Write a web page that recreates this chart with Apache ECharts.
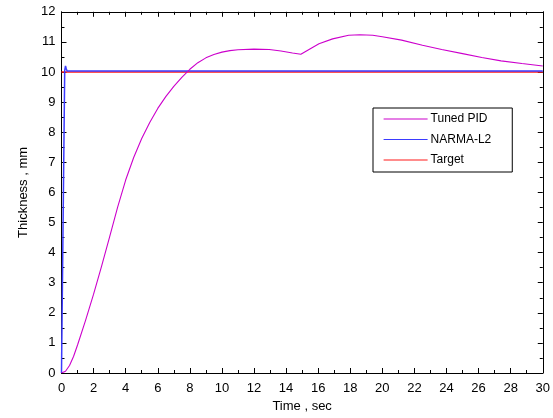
<!DOCTYPE html>
<html>
<head>
<meta charset="utf-8">
<script src="https://cdn.jsdelivr.net/npm/echarts@6/dist/echarts.min.js"></script>
<style>
  html, body { margin: 0; padding: 0; background: #fff; }
  #chart { width: 553px; height: 418px; }
</style>
</head>
<body>
<div id="chart"></div>
<script>
// Thickness response of the tuned PID loop, the NARMA-L2 controller and the set-point
const pidTime = [0, 0.25, 0.5, 0.75, 1, 1.5, 2, 2.5, 3, 3.5, 4, 4.5, 5, 5.5, 6, 6.5, 7, 7.5, 8, 8.5, 9, 9.5, 10, 10.5, 11, 12, 12.95, 13.68, 14.4, 14.92, 15.43, 16.05, 16.9, 17.9, 18.6, 19.4, 20, 21.2, 22.5, 23.7, 25, 26.2, 27.4, 28.7, 30];
const pidThickness = [0, 0.06, 0.25, 0.55, 0.93, 1.75, 2.62, 3.55, 4.52, 5.51, 6.41, 7.16, 7.79, 8.32, 8.79, 9.18, 9.52, 9.82, 10.09, 10.31, 10.47, 10.58, 10.66, 10.71, 10.74, 10.76, 10.75, 10.7, 10.63, 10.59, 10.75, 10.94, 11.1, 11.22, 11.24, 11.22, 11.17, 11.06, 10.89, 10.75, 10.61, 10.48, 10.37, 10.28, 10.2];

const narmaTime = [0, 0.2, 0.25, 0.3, 0.35, 0.5, 1, 5, 10, 15, 20, 25, 30];
const narmaThickness = [0, 10.05, 10.2, 10.1, 10.03, 10.03, 10.03, 10.03, 10.03, 10.03, 10.03, 10.03, 10.03];

const targetTime = [0, 30];
const targetThickness = [10, 10];

const xTicks = { min: 0, max: 30, interval: 2 };
const yTicks = { min: 0, max: 12, interval: 1 };

const seriesNames = ['Tuned PID', 'NARMA-L2', 'Target'];
const seriesColors = ['#cc00cc', '#3b3bff', '#ff1a1a'];

const pairs = (xs, ys) => xs.map((x, i) => [x, ys[i]]);

const font = 'Liberation Sans, Arial, sans-serif';
const black = '#000';

function axis(pos, range, showLabels, name, gap) {
  return {
    type: 'value',
    position: pos,
    min: range.min,
    max: range.max,
    interval: range.interval,
    name: name || '',
    nameLocation: 'middle',
    nameGap: gap || 0,
    nameTextStyle: { color: black, fontFamily: font, fontSize: 13 },
    axisLine: { show: true, onZero: false, lineStyle: { color: black, width: 1 } },
    axisTick: { show: true, inside: true, length: 5, lineStyle: { color: black } },
    minorTick: { show: true, inside: true, splitNumber: 2, length: 3, lineStyle: { color: black } },
    axisLabel: { show: showLabels, color: black, fontFamily: font, fontSize: 13, margin: pos === 'bottom' ? 9 : 6 },
    splitLine: { show: false }
  };
}

const chart = echarts.init(document.getElementById('chart'), null, { renderer: 'canvas' });

chart.setOption({
  animation: false,
  backgroundColor: '#fff',
  color: seriesColors,
  grid: { left: 61.5, right: 8.5, top: 11.8, bottom: 39, containLabel: false },
  xAxis: [
    axis('bottom', xTicks, true, 'Time , sec', 27),
    axis('top', xTicks, false)
  ],
  yAxis: [
    axis('left', yTicks, true, 'Thickness , mm', 28),
    axis('right', yTicks, false)
  ],
  legend: {
    data: seriesNames,
    orient: 'vertical',
    left: 373,
    top: 108,
    itemWidth: 44,
    itemHeight: 14,
    itemGap: 6.5,
    padding: [4, 21, 5, 10],
    borderColor: black,
    borderWidth: 1,
    backgroundColor: '#fff',
    itemStyle: { opacity: 0 },
    lineStyle: { width: 1.2 },
    textStyle: { color: black, fontFamily: font, fontSize: 12, lineHeight: 14, padding: [0, 0, 0, -2] }
  },
  series: [
    {
      name: seriesNames[0], type: 'line', data: pairs(pidTime, pidThickness),
      showSymbol: false, symbol: 'none', z: 4,
      itemStyle: { color: seriesColors[0] },
      lineStyle: { color: seriesColors[0], width: 1.1 }
    },
    {
      name: seriesNames[1], type: 'line', data: pairs(narmaTime, narmaThickness),
      showSymbol: false, symbol: 'none', z: 3,
      itemStyle: { color: seriesColors[1] },
      lineStyle: { color: seriesColors[1], width: 1.5 }
    },
    {
      name: seriesNames[2], type: 'line', data: pairs(targetTime, targetThickness),
      showSymbol: false, symbol: 'none', z: 2,
      itemStyle: { color: seriesColors[2] },
      lineStyle: { color: seriesColors[2], width: 1.3 }
    }
  ]
});
</script>
</body>
</html>
